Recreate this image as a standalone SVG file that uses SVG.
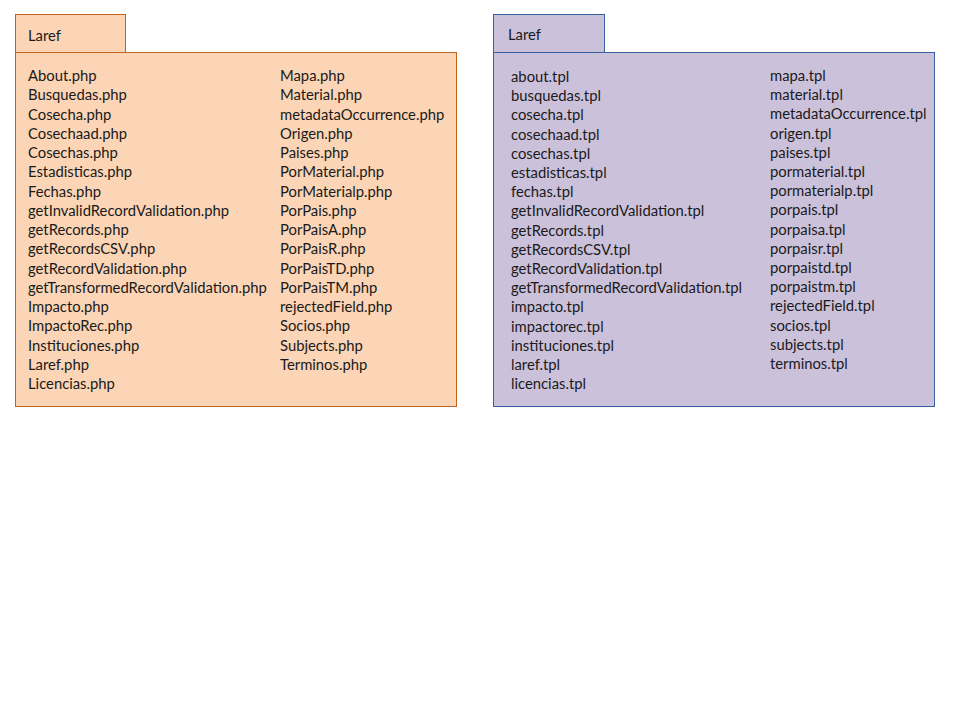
<svg xmlns="http://www.w3.org/2000/svg" width="960" height="720" viewBox="0 0 960 720">
<style>
text{font-family:Lato,"Open Sans","Liberation Sans",sans-serif;font-size:14.8px;fill:#1a1a1a}
.o{fill:#FBD5B5;stroke:#C0631C;stroke-width:1}
.p{fill:#CCC1DA;stroke:#3A62A0;stroke-width:1}
</style>
<rect width="960" height="720" fill="#fff"/>
<g id="pkg-php">
<rect class="o" x="15.5" y="14.5" width="110" height="38"/>
<rect class="o" x="15.5" y="52.5" width="441" height="354"/>
<text x="28" y="41">Laref</text>
<g transform="translate(0,1)">
<text x="28" y="80">About.php</text>
<text x="28" y="99.25">Busquedas.php</text>
<text x="28" y="118.5">Cosecha.php</text>
<text x="28" y="137.75">Cosechaad.php</text>
<text x="28" y="157">Cosechas.php</text>
<text x="28" y="176.25">Estadisticas.php</text>
<text x="28" y="195.5">Fechas.php</text>
<text x="28" y="214.75">getInvalidRecordValidation.php</text>
<text x="28" y="234">getRecords.php</text>
<text x="28" y="253.25">getRecordsCSV.php</text>
<text x="28" y="272.5">getRecordValidation.php</text>
<text x="28" y="291.75">getTransformedRecordValidation.php</text>
<text x="28" y="311">Impacto.php</text>
<text x="28" y="330.25">ImpactoRec.php</text>
<text x="28" y="349.5">Instituciones.php</text>
<text x="28" y="368.75">Laref.php</text>
<text x="28" y="388">Licencias.php</text>
</g>
<g transform="translate(0,1)">
<text x="280" y="80">Mapa.php</text>
<text x="280" y="99.25">Material.php</text>
<text x="280" y="118.5">metadataOccurrence.php</text>
<text x="280" y="137.75">Origen.php</text>
<text x="280" y="157">Paises.php</text>
<text x="280" y="176.25">PorMaterial.php</text>
<text x="280" y="195.5">PorMaterialp.php</text>
<text x="280" y="214.75">PorPais.php</text>
<text x="280" y="234">PorPaisA.php</text>
<text x="280" y="253.25">PorPaisR.php</text>
<text x="280" y="272.5">PorPaisTD.php</text>
<text x="280" y="291.75">PorPaisTM.php</text>
<text x="280" y="311">rejectedField.php</text>
<text x="280" y="330.25">Socios.php</text>
<text x="280" y="349.5">Subjects.php</text>
<text x="280" y="368.75">Terminos.php</text>
</g>
</g>
<g id="pkg-tpl">
<rect class="p" x="493.5" y="14.5" width="111" height="38"/>
<rect class="p" x="493.5" y="52.5" width="441" height="354"/>
<text x="508" y="40">Laref</text>
<g transform="translate(0,1)">
<text x="511" y="81">about.tpl</text>
<text x="511" y="100.2">busquedas.tpl</text>
<text x="511" y="119.4">cosecha.tpl</text>
<text x="511" y="138.6">cosechaad.tpl</text>
<text x="511" y="157.8">cosechas.tpl</text>
<text x="511" y="177">estadisticas.tpl</text>
<text x="511" y="196.2">fechas.tpl</text>
<text x="511" y="215.4">getInvalidRecordValidation.tpl</text>
<text x="511" y="234.6">getRecords.tpl</text>
<text x="511" y="253.8">getRecordsCSV.tpl</text>
<text x="511" y="273">getRecordValidation.tpl</text>
<text x="511" y="292.2">getTransformedRecordValidation.tpl</text>
<text x="511" y="311.4">impacto.tpl</text>
<text x="511" y="330.6">impactorec.tpl</text>
<text x="511" y="349.8">instituciones.tpl</text>
<text x="511" y="369">laref.tpl</text>
<text x="511" y="388.2">licencias.tpl</text>
</g>
<g transform="translate(0,1)">
<text x="770" y="80">mapa.tpl</text>
<text x="770" y="99.2">material.tpl</text>
<text x="770" y="118.4">metadataOccurrence.tpl</text>
<text x="770" y="137.6">origen.tpl</text>
<text x="770" y="156.8">paises.tpl</text>
<text x="770" y="176">pormaterial.tpl</text>
<text x="770" y="195.2">pormaterialp.tpl</text>
<text x="770" y="214.4">porpais.tpl</text>
<text x="770" y="233.6">porpaisa.tpl</text>
<text x="770" y="252.8">porpaisr.tpl</text>
<text x="770" y="272">porpaistd.tpl</text>
<text x="770" y="291.2">porpaistm.tpl</text>
<text x="770" y="310.4">rejectedField.tpl</text>
<text x="770" y="329.6">socios.tpl</text>
<text x="770" y="348.8">subjects.tpl</text>
<text x="770" y="368">terminos.tpl</text>
</g>
</g>
</svg>
